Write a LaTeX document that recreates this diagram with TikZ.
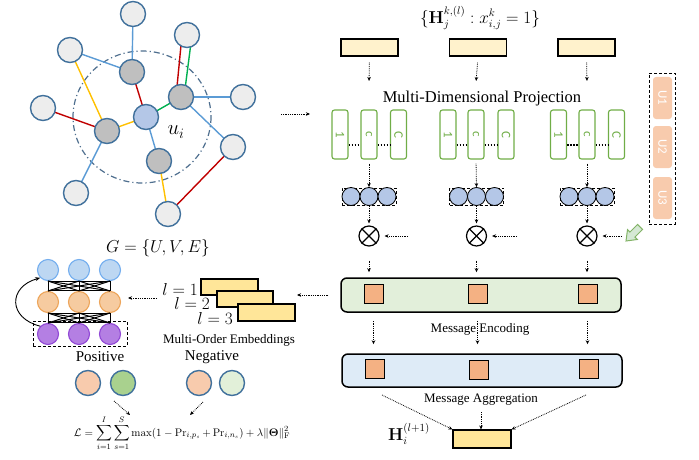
\documentclass[tikz,border=0pt]{standalone}
\usepackage{amsmath,amssymb}
\usepackage[no-math]{fontspec}
\setmainfont{Liberation Serif}
\newfontfamily\calib{Carlito}
\usetikzlibrary{arrows.meta}
\pgfdeclarelayer{bg}
\pgfsetlayers{bg,main}

\definecolor{edgeblue}{HTML}{5B9BD5}
\definecolor{edgered}{HTML}{C00000}
\definecolor{edgeyel}{HTML}{FFC000}
\definecolor{edgegrn}{HTML}{00B050}
\definecolor{nodeline}{HTML}{41719C}
\definecolor{lightnode}{HTML}{EDEDED}
\definecolor{darknode}{HTML}{BFBFBF}
\definecolor{centernode}{HTML}{B4C7E7}
\definecolor{paleyel}{HTML}{FFF2CC}
\definecolor{deepyel}{HTML}{FFE699}
\definecolor{projgreen}{HTML}{70AD47}
\definecolor{bandgreen}{HTML}{E2EFDA}
\definecolor{bandblue}{HTML}{DEEBF7}
\definecolor{sqorange}{HTML}{F4B183}
\definecolor{peach}{HTML}{F8CBAD}
\definecolor{bpblue}{HTML}{BDD7F2}
\definecolor{bpblueline}{HTML}{74AEEE}
\definecolor{bporange}{HTML}{F6CBA0}
\definecolor{bporangeline}{HTML}{EDA55A}
\definecolor{bppurple}{HTML}{B47FE3}
\definecolor{bppurpleline}{HTML}{9148D6}
\definecolor{posgreen}{HTML}{A9D18E}
\definecolor{neggreen}{HTML}{E2F0D9}
\definecolor{ringline}{HTML}{4F6F8F}
\definecolor{arrowfill}{HTML}{D5E8D4}
\definecolor{arrowline}{HTML}{82B366}

\tikzset{
  lnode/.style={circle,draw=nodeline,line width=1.4pt,fill=lightnode,minimum size=25pt,inner sep=0pt},
  dnode/.style={lnode,fill=darknode},
  cnode/.style={lnode,fill=centernode},
  gedge/.style={line width=1.4pt},
  darr/.style={densely dotted,line width=0.8pt,-{Stealth[length=4pt,width=3.5pt]}},
  ybox/.style={draw,line width=1.1pt,fill=paleyel,minimum width=57pt,minimum height=17pt,inner sep=0pt},
  projbox/.style={draw=projgreen,line width=1.1pt,rounded corners=2.5pt,minimum width=16pt,minimum height=49pt,inner sep=0pt},
  projlab/.style={text=projgreen,font=\calib\fontsize{13}{13}\selectfont,rotate=-90},
  thickdot/.style={line width=1.6pt,dash pattern=on 1.6pt off 1.4pt},
  ball/.style={circle,draw,line width=0.8pt,fill=centernode,minimum size=18pt,inner sep=0pt},
  ballrow/.style={draw,densely dashed,line width=0.7pt,minimum width=54pt,minimum height=17pt,inner sep=0pt},
  otimes/.style={circle,draw,line width=1.2pt,minimum size=20pt,inner sep=0pt},
  band/.style={draw,line width=1.5pt,rounded corners=6pt,minimum width=280pt,minimum height=34pt,inner sep=0pt},
  osq/.style={draw,line width=0.9pt,fill=sqorange,minimum size=19pt,inner sep=0pt},
  ubox/.style={fill=peach,rounded corners=3pt,minimum width=19pt,minimum height=42pt,inner sep=0pt},
  ulab/.style={text=white,font=\calib\fontsize{13}{13}\selectfont,rotate=-90},
  mobox/.style={draw,line width=1.1pt,fill=deepyel,minimum width=57pt,minimum height=16pt,inner sep=0pt},
  bpb/.style={circle,draw=bpblueline,fill=bpblue,line width=1.1pt,minimum size=21pt,inner sep=0pt},
  bpo/.style={bpb,draw=bporangeline,fill=bporange},
  bpp/.style={bpb,draw=bppurpleline,fill=bppurple},
  bpline/.style={line width=1pt},
  smp/.style={circle,draw=nodeline,line width=1.4pt,minimum size=25pt,inner sep=0pt},
  lab/.style={inner sep=0pt,font=\fontsize{13}{13}\selectfont},
}

\begin{document}
\begin{tikzpicture}[x=1pt,y=-1pt]
\useasboundingbox (0,0) rectangle (699,460);

% ---------- neighbourhood graph ----------
\node[lnode] (n1) at (133,14) {};
\node[lnode] (n2) at (70,50) {};
\node[lnode] (n3) at (187,35) {};
\node[lnode] (n4) at (43,108) {};
\node[lnode] (n5) at (243,97) {};
\node[lnode] (n6) at (233,147) {};
\node[lnode] (n7) at (76,193) {};
\node[lnode] (n8) at (168,214) {};
\node[dnode] (g1) at (132,72) {};
\node[dnode] (g2) at (181,97) {};
\node[dnode] (g3) at (107,131) {};
\node[dnode] (g4) at (159,161) {};
\node[cnode] (c) at (146,117) {};
\node[inner sep=0pt,font=\fontsize{20}{20}\selectfont] (ulab) at (176,132) {$u_i$};

\begin{pgfonlayer}{bg}
  \draw[color=ringline,line width=1.2pt,dash pattern=on 6pt off 3pt on 1.2pt off 3pt]
    (c.center) ++(-4,0) ellipse [x radius=69, y radius=66];
  \draw[gedge,edgeblue] (n1.center) -- (g1.center);
  \draw[gedge,edgeblue] (n2.center) -- (g1.center);
  \draw[gedge,edgeyel] (n2.center) -- (g3.center);
  \draw[gedge,edgered] (n4.center) -- (g3.center);
  \draw[gedge,edgeblue] (n7.center) -- (g3.center);
  \draw[gedge,edgered] (g1.center) -- (c.center);
  \draw[gedge,edgeyel] (g3.center) -- (c.center);
  \draw[gedge,edgegrn] (c.center) -- (g2.center);
  \draw[gedge,edgeblue] (c.center) -- (g4.center);
  \draw[gedge,edgered] ([xshift=-5pt]n3.center) -- ([xshift=-5pt]g2.center);
  \draw[gedge,edgegrn] ([xshift=5pt]n3.center) -- ([xshift=3pt]g2.center);
  \draw[gedge,edgeblue] (g2.center) -- (n5.center);
  \draw[gedge,edgeblue] (g2.center) -- (n6.center);
  \draw[gedge,edgered] (n6.center) -- (n8.center);
  \draw[gedge,edgeyel] (g4.center) -- (n8.center);
\end{pgfonlayer}

\coordinate (gs) at (281,114);
\coordinate (ge) at (310,114);
\draw[darr] (gs) -- (ge);

% ---------- neighbour embeddings and projection ----------
\node[inner sep=0pt,font=\fontsize{16}{16}\selectfont] (htitle) at (480,18)
  {$\{\mathbf{H}_j^{k,(l)} : x_{i,j}^k = 1\}$};
\node[ybox] (t1) at (369.5,47.5) {};
\node[ybox] (t2) at (478,47.5) {};
\node[ybox] (t3) at (586.5,47.5) {};

\node[inner sep=0pt,font=\fontsize{16.5}{16.5}\selectfont] (mdp) at (482,99) {Multi-Dimensional Projection};

\foreach \g/\xa/\xb/\xc in {1/340/369/398.5, 2/448/476/506, 3/558.5/587/616.5}{
  \node[projbox] (p\g a) at (\xa,134.5) {};
  \node[projbox] (p\g b) at (\xb,134.5) {};
  \node[projbox] (p\g c) at (\xc,134.5) {};
  \node[projlab] at (p\g a) {1};
  \node[projlab] at (p\g b) {c};
  \node[projlab] at (p\g c) {C};
  \draw[thickdot] ([yshift=-10.5pt]p\g a.east) -- ([yshift=-10.5pt]p\g b.west);
  \draw[thickdot] ([yshift=-10.5pt]p\g b.east) -- ([yshift=-10.5pt]p\g c.west);
}

\foreach \g/\x in {1/369, 2/476.5, 3/587}{
  \node[ballrow] (row\g) at (\x,196.5) {};
  \node[ball] (b\g a) at (\x-18,196.5) {};
  \node[ball] (b\g b) at (\x,196.5) {};
  \node[ball] (b\g c) at (\x+18,196.5) {};
  \node[otimes] (x\g) at (\x,236) {};
  \draw[line width=1.2pt] (x\g.north west) -- (x\g.south east);
  \draw[line width=1.2pt] (x\g.north east) -- (x\g.south west);
  \draw[darr,shorten <=4pt] (p\g b.south) -- (b\g b.north);
  \draw[darr,shorten >=2pt] (b\g b.south) -- (x\g.north);
}
\draw[darr,shorten <=6pt,shorten >=2pt] (t1.south) -- (p1b.north |- 0,83);
\draw[darr,shorten <=6pt,shorten >=2pt] (t2.south) -- (p2b.north |- 0,83);
\draw[darr,shorten <=6pt,shorten >=2pt] (t3.south) -- (p3b.north |- 0,83);

\coordinate (u1in) at (408,236);
\coordinate (u2in) at (517,236);
\coordinate (u3in) at (622,236);
\draw[darr,shorten >=5pt] (u1in) -- (x1.east);
\draw[darr,shorten >=5pt] (u2in) -- (x2.east);
\draw[darr,shorten >=5pt] (u3in) -- (x3.east);

% ---------- unit stack ----------
\node[draw,densely dashed,line width=0.8pt,minimum width=26pt,minimum height=151pt,inner sep=0pt] (ustack) at (662,148.5) {};
\node[ubox] (u1) at (662.5,98) {};
\node[ubox] (u2) at (662.5,147) {};
\node[ubox] (u3) at (662.5,198) {};
\node[ulab] at (u1) {U1};
\node[ulab] at (u2) {U2};
\node[ulab] at (u3) {U3};
\fill[arrowfill,draw=arrowline,line width=1pt,line join=miter]
  (626,241) -- (637.3,239.5) -- (634.9,237.1) -- (642.6,229.4) -- (637.6,224.4)
  -- (629.9,232.1) -- (627.5,229.7) -- cycle;

% ---------- message encoding / aggregation ----------
\node[band,fill=bandgreen] (gband) at (481,295) {};
\node[osq] (e1) at (373.5,293.5) {};
\node[osq] (e2) at (477.5,293.5) {};
\node[osq] (e3) at (587.5,293.5) {};
\draw[darr,shorten <=14pt,shorten >=5pt] (x1.south) -- (x1.south |- gband.north);
\draw[darr,shorten <=14pt,shorten >=5pt] (x2.south) -- (x2.south |- gband.north);
\draw[darr,shorten <=14pt,shorten >=5pt] (x3.south) -- (x3.south |- gband.north);

\node[band,fill=bandblue,minimum height=33pt] (bband) at (482,370.5) {};
\node[osq] (a1) at (374.5,368.5) {};
\node[osq] (a2) at (478.5,370) {};
\node[osq] (a3) at (588.5,368.5) {};

\node[lab] (menc) at (480,329) {Message Encoding};
\draw[darr,shorten <=8pt,shorten >=9pt] (e1.south |- gband.south) -- (e1.south |- bband.north);
\draw[darr,shorten <=8pt,shorten >=9pt] (e2.south |- gband.south) -- (e2.south |- bband.north);
\draw[darr,shorten <=8pt,shorten >=9pt] (e3.south |- gband.south) -- (e3.south |- bband.north);

\node[lab] (magg) at (481,400) {Message Aggregation};
\node[draw,line width=1.1pt,fill=deepyel,minimum width=58pt,minimum height=18pt,inner sep=0pt] (hout) at (482,439) {};
\node[inner sep=0pt,font=\fontsize{16}{16}\selectfont] (hlab) at (409,434) {$\mathbf{H}_i^{(l+1)}$};
\coordinate (ag1) at (382,395);
\coordinate (ag2) at (481,412);
\coordinate (ag3) at (586,395);
\draw[darr] (ag1) -- (hout.north west);
\draw[darr] (ag2) -- (hout.north -| ag2);
\draw[darr] (ag3) -- (hout.north east);

\coordinate (moin) at (297,295);
\draw[darr,shorten <=12pt] (gband.west) -- (moin);

% ---------- multi-order embeddings ----------
\node[mobox] (m1) at (229.5,287) {};
\node[mobox,minimum width=56pt] (m2) at (245,299) {};
\node[mobox,minimum height=17pt] (m3) at (266.5,312.5) {};
\node[anchor=east,inner sep=0pt,font=\fontsize{17}{17}\selectfont] (l1) at (198,289) {$l=1$};
\node[anchor=east,inner sep=0pt,font=\fontsize{17}{17}\selectfont] (l2) at (210,303) {$l=2$};
\node[anchor=east,inner sep=0pt,font=\fontsize{17}{17}\selectfont] (l3) at (233,318) {$l=3$};
\node[lab] (moe) at (229,340) {Multi-Order Embeddings};

\coordinate (mos) at (157,298);
\coordinate (moe2) at (128,298);
\draw[darr] (mos) -- (moe2);

% ---------- bipartite graph ----------
\node[inner sep=0pt,font=\fontsize{16.5}{16.5}\selectfont] (gdef) at (158,248) {$G=\{U,V,E\}$};
\foreach \i/\x in {1/48, 2/79, 3/110}{
  \node[bpb] (b\i) at (\x,270) {};
  \node[bpo] (o\i) at (\x,302) {};
  \node[bpp] (q\i) at (\x,334) {};
}
\foreach \i in {1,2,3}{
  \foreach \j in {1,2,3}{
    \draw[bpline] (b\i.south) -- (o\j.north);
    \draw[bpline] (o\i.south) -- (q\j.north);
  }
}
\draw[bpline] (b1.south) -- (b3.south);
\draw[bpline] (o1.north) -- (o3.north);
\draw[bpline] (o1.south) -- (o3.south);
\draw[bpline] (q1.north) -- (q3.north);
\node[draw,densely dashed,line width=0.8pt,minimum width=94pt,minimum height=25pt,inner sep=0pt] (qbox) at (80,333.5) {};
\draw[line width=0.9pt,-{Stealth[length=5pt,width=4pt]}]
  (q1.north west) .. controls (8,318) and (8,287) .. (b1.south west);

% ---------- samples and loss ----------
\node[inner sep=0pt,font=\fontsize{15}{15}\selectfont] (pos) at (100,357) {Positive};
\node[inner sep=0pt,font=\fontsize{15}{15}\selectfont] (neg) at (212,357) {Negative};
\node[smp,fill=peach] (s1) at (88,383) {};
\node[smp,fill=posgreen] (s2) at (123,383) {};
\node[smp,fill=peach] (s3) at (199,383) {};
\node[smp,fill=neggreen] (s4) at (232,383) {};
\coordinate (ps) at (114,401);
\coordinate (pe) at (130,415);
\coordinate (ns) at (203,402);
\coordinate (ne) at (190,415);
\draw[darr] (ps) -- (pe);
\draw[darr] (ns) -- (ne);
\node[inner sep=0pt,font=\fontsize{11}{11}\selectfont] (loss) at (182,433)
  {$\displaystyle \mathcal{L}=\sum_{i=1}^{I}\sum_{s=1}^{S}\max(1-\Pr\nolimits_{i,p_s}+\Pr\nolimits_{i,n_s})+\lambda\|\boldsymbol{\Theta}\|_{\mathrm{F}}^{2}$};
\end{tikzpicture}
\end{document}
